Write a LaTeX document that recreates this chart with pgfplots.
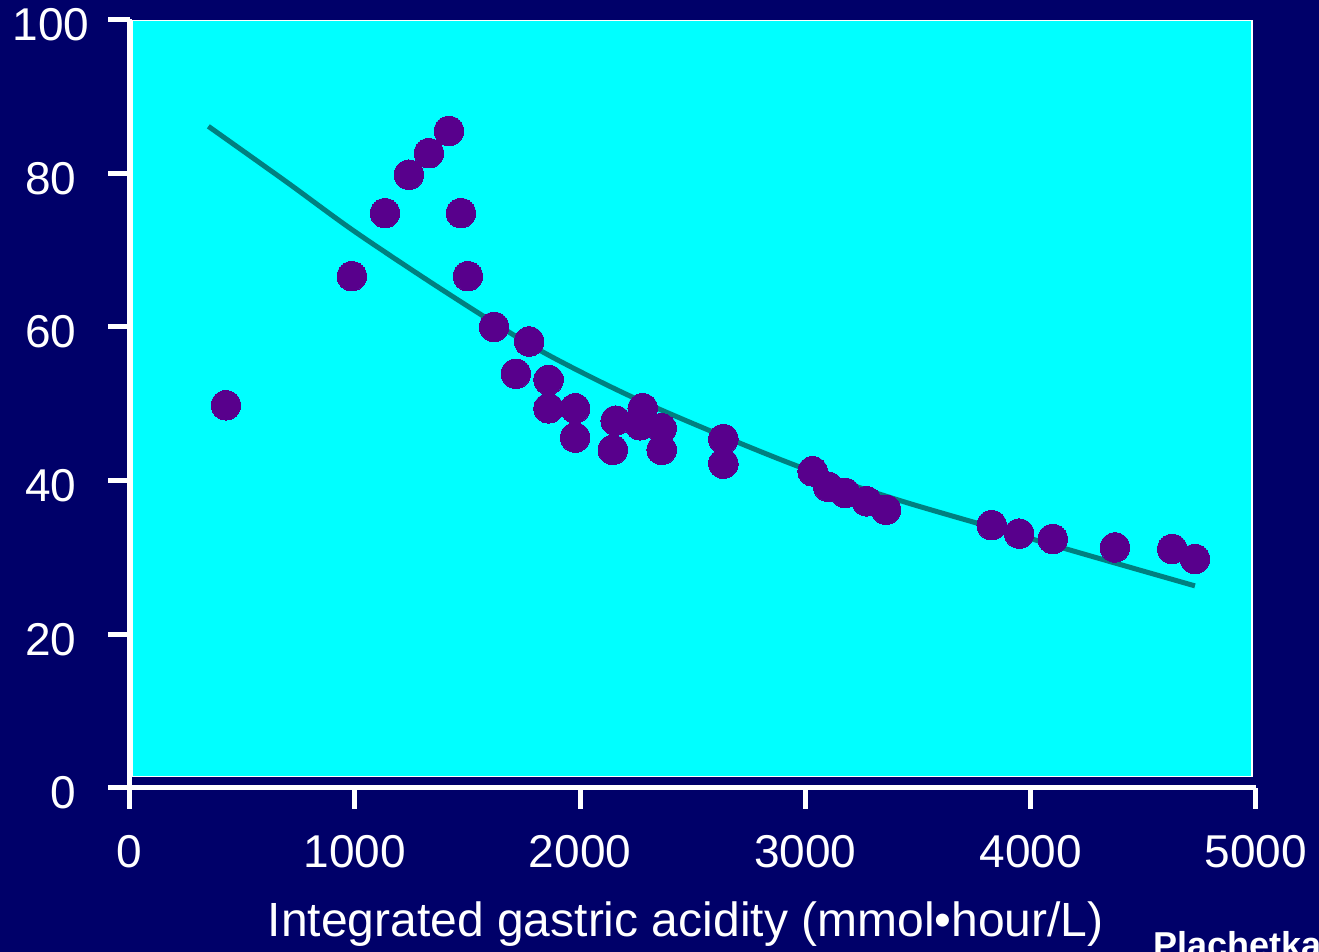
\documentclass[border=0pt]{standalone}
\usepackage{fontspec}
\setmainfont{Liberation Sans}
\usepackage{pgfplots}
\pgfplotsset{compat=1.18}
\definecolor{bgnavy}{RGB}{0,0,105}
\definecolor{plotcyan}{RGB}{0,255,255}
\definecolor{dotpurple}{RGB}{88,0,140}
\definecolor{fitteal}{RGB}{0,128,128}
\begin{document}
\begin{tikzpicture}[x=1pt,y=1pt]
\fill[bgnavy] (0,0) rectangle (1319,952);
\begin{axis}[
  at={(129.5pt,164pt)}, anchor=south west,
  scale only axis, width=1126.5pt, height=768.5pt,
  xmin=0, xmax=5000, ymin=0, ymax=100,
  clip=false,
  axis lines=left,
  axis line style={white, line width=5pt, -},
  xtick={0,1000,2000,3000,4000,5000},
  ytick={0,20,40,60,80,100},
  yticklabels={0,20,40,60,80,{100\hspace*{-13pt}}},
  tick align=outside, major tick length=21pt,
  tick style={white, line width=5pt},
  ticklabel style={text=white, font=\fontsize{46}{55}\selectfont, inner sep=0pt},
  xticklabel style={yshift=-26pt},
  yticklabel style={xshift=-32pt, yshift=-5pt},
  /pgf/number format/assume math mode=true,
  /pgf/number format/1000 sep={},
  xlabel={Integrated gastric acidity (mmol•hour/L)},
  xlabel style={text=white, font=\fontsize{48}{58}\selectfont, yshift=-30pt, xshift=-7pt},
]
\addplot[fill=plotcyan, draw=white, line width=1.5pt] coordinates {
  (11,1.5) (4982,1.5) (4982,99.9) (11,99.9) (11,1.5)};
\addplot[fitteal, line width=5pt, smooth] coordinates {
  (350,86.1) (700,78.8) (1000,72.4) (1400,64.6) (1800,57.3) (2200,51.3)
  (2600,46.2) (3000,41.5) (3420,37.4) (3900,33.3) (4300,29.9) (4729,26.3)};
\addplot[only marks, mark=*, mark size=14.75pt, mark options={fill=dotpurple, draw=dotpurple, line width=0pt}] coordinates {
  (428,49.8) (987,66.6) (1134,74.8) (1240,79.8) (1329,82.6) (1418,85.5)
  (1471,74.8) (1502,66.6) (1618,60.0) (1774,58.1) (1715,53.9) (1860,53.1)
  (1860,49.4) (1978,49.4) (1978,45.6) (2158,47.8) (2145,44.0) (2278,49.4)
  (2266,47.2) (2362,46.8) (2362,44.0) (2636,45.4) (2636,42.2) (3032,41.2)
  (3101,39.2) (3176,38.4) (3272,37.3) (3358,36.2) (3827,34.2) (3949,33.1)
  (4098,32.4) (4374,31.3) (4628,31.1) (4729,29.8)};
\end{axis}
\node[anchor=base west, inner sep=0pt, text=white, font=\bfseries\fontsize{36}{43}\selectfont] at (1153,-6) {Plachetka};
\pgfresetboundingbox
\path[use as bounding box] (0,0) rectangle (1319,952);
\end{tikzpicture}
\end{document}
